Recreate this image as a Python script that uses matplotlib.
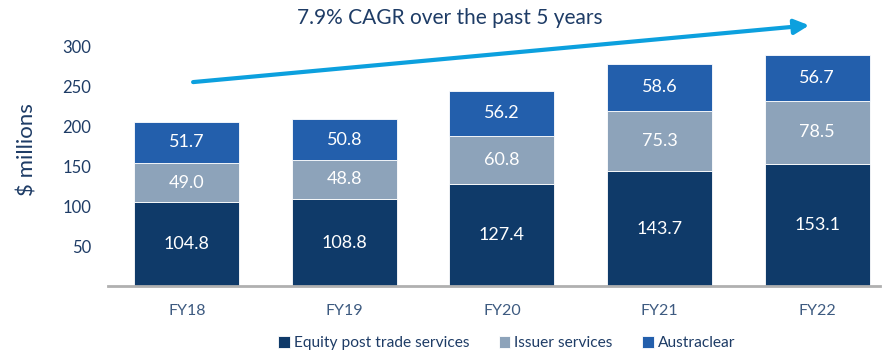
import matplotlib.pyplot as plt
import numpy as np

plt.rcParams['font.family'] = ['Lato', 'DejaVu Sans']

years = ["FY18", "FY19", "FY20", "FY21", "FY22"]
equity = [104.8, 108.8, 127.4, 143.7, 153.1]
issuer = [49.0, 48.8, 60.8, 75.3, 78.5]
austraclear = [51.7, 50.8, 56.2, 58.6, 56.7]
series_names = ["Equity post trade services", "Issuer services", "Austraclear"]
colors = ["#0f3a69", "#8da3ba", "#235fac"]
text_color = "#1e3c66"

fig = plt.figure(figsize=(8.89, 3.52), dpi=100)
ax = fig.add_axes([0.1215, 0.1875, 0.8685, 0.6815])

x = np.arange(len(years))
bottom = np.zeros(len(years))
for vals, name, c in zip([equity, issuer, austraclear], series_names, colors):
    ax.bar(x, vals, width=0.667, bottom=bottom, color=c, label=name,
           edgecolor="white", linewidth=0.6)
    for xi, b, v in zip(x, bottom, vals):
        ax.text(xi, b + v / 2, f"{v:.1f}", ha="center", va="center",
                color="white", fontsize=13)
    bottom += np.array(vals)

ax.set_xlim(-0.5, 4.4)
ax.set_ylim(0, 300)
ax.set_yticks([50, 100, 150, 200, 250, 300])
ax.set_xticks(x)
ax.set_xticklabels(years)
ax.tick_params(axis="y", length=0, labelsize=12, labelcolor=text_color, pad=12)
ax.tick_params(axis="x", length=0, labelsize=11.5, labelcolor="#3d5a80", pad=13)
for s in ["top", "right", "left"]:
    ax.spines[s].set_visible(False)
ax.spines["bottom"].set_color("#b0b0b0")
ax.spines["bottom"].set_linewidth(2)

fig.text(28 / 889, 0.575, "$ millions", rotation=90, ha="center", va="center",
         fontsize=16, color=text_color)

# growth arrow and headline
ax.annotate("", xy=(3.95, 326), xytext=(0.04, 255), annotation_clip=False,
            arrowprops=dict(arrowstyle="-|>", color="#0ca0de", lw=3,
                            mutation_scale=22, shrinkA=0, shrinkB=0))
ax.text(1.67, 335, "7.9% CAGR over the past 5 years", ha="center", va="center",
        fontsize=15, color=text_color, clip_on=False)

fig.legend(loc="lower center", bbox_to_anchor=(0.57, -0.035), ncol=3, frameon=False,
           handlelength=0.75, handleheight=0.75, handletextpad=0.25, columnspacing=1.9,
           fontsize=11.2, labelcolor=text_color)

fig.savefig("out.png", dpi=100)
